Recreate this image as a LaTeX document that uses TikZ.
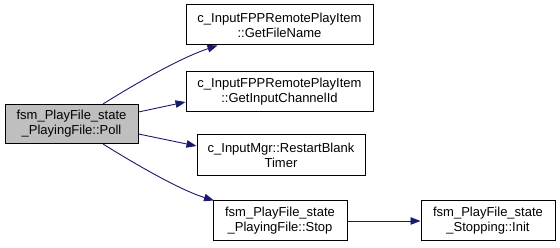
\documentclass[tikz,border=0pt]{standalone}
\usepackage{fontspec}
\setmainfont{Liberation Sans}
\usetikzlibrary{arrows.meta}
\definecolor{edgeblue}{HTML}{191970}
\definecolor{curfill}{HTML}{BFBFBF}
\begin{document}
\begin{tikzpicture}[x=1pt,y=1pt,
  fn/.style={draw=black,line width=1pt,fill=white,align=center,inner sep=0pt,
    font=\fontsize{13}{15}\selectfont},
  cur/.style={fn,fill=curfill},
  call/.style={draw=edgeblue,line width=0.9pt,
    -{Triangle[length=10pt,width=7.5pt]}}]
\useasboundingbox (0,0) rectangle (560,248);
% functions
\node[cur,minimum width=133pt,minimum height=39pt] (poll) at (71.5,124) {fsm\_PlayFile\_state\\\_PlayingFile::Poll};
\node[fn,minimum width=187pt,minimum height=40pt] (fname) at (279.5,223) {c\_InputFPPRemotePlayItem\\::GetFileName};
\node[fn,minimum width=187pt,minimum height=40pt] (chan) at (279.5,156.5) {c\_InputFPPRemotePlayItem\\::GetInputChannelId};
\node[fn,minimum width=168pt,minimum height=41pt] (timer) at (281,92.5) {c\_InputMgr::RestartBlank\\Timer};
\node[fn,minimum width=134pt,minimum height=40pt] (stop) at (280,27) {fsm\_PlayFile\_state\\\_PlayingFile::Stop};
\node[fn,minimum width=134pt,minimum height=40pt] (init) at (488,27) {fsm\_PlayFile\_state\\\_Stopping::Init};
% calls
\draw[call] ([xshift=31.5pt]poll.north) .. controls (135,164) and (180,190) .. ([xshift=-62pt]fname.south);
\draw[call] ([yshift=12pt]poll.east) -- ([yshift=-10.5pt]chan.west);
\draw[call] ([yshift=-10pt]poll.east) -- ([yshift=9.5pt]timer.west);
\draw[call] ([xshift=31.5pt]poll.south) .. controls (135,84) and (180,58) .. ([xshift=-66pt]stop.north);
\draw[call] (stop.east) -- (init.west);
\end{tikzpicture}
\end{document}
